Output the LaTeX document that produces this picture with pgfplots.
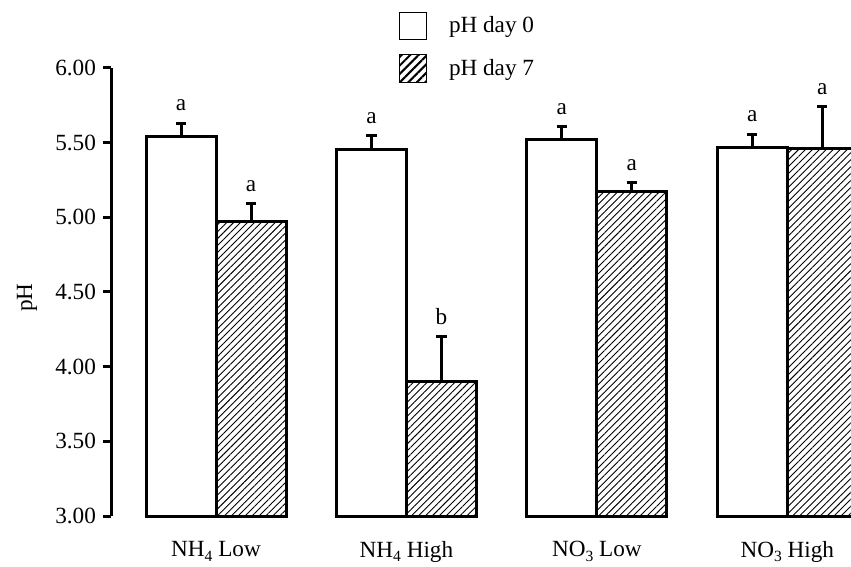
\documentclass[border=0pt]{standalone}
\usepackage{fontspec}
\setmainfont{Liberation Serif}
\usepackage{pgfplots}
\usepackage{pgfplotstable}
\pgfplotsset{compat=1.18}
\usetikzlibrary{patterns.meta}

% pH means, upward standard errors and significance letters
\pgfplotstableread{
x y err lab
0 5.54 0.09 a
1 5.455 0.09 a
2 5.52 0.085 a
3 5.465 0.09 a
}\dayzero
\pgfplotstableread{
x y err lab
0 4.97 0.12 a
1 3.90 0.30 b
2 5.17 0.06 a
3 5.46 0.28 a
}\dayseven

\newcommand{\sub}[1]{\raisebox{-0.45ex}{\fontsize{7.8}{8}\selectfont #1}}
\tikzset{hatch/.style={pattern={Lines[angle=45, distance=2.45pt, line width=0.45pt]}}}

\begin{document}
\begin{tikzpicture}[font=\fontsize{11.6}{13.9}\selectfont]
\begin{axis}[
  at={(55.5pt,25.5pt)}, anchor=south west,
  scale only axis, width=390.5pt, height=224pt,
  xmin=-0.5515, xmax=3.55, ymin=3, ymax=6,
  clip=false,
  axis x line*=bottom, axis y line*=left,
  x axis line style={draw=none},
  y axis line style={line width=1.5pt},
  ybar=0pt, bar width=0.3676,
  xtick={0,1,2,3},
  xticklabels={NH\sub{4} Low, NH\sub{4} High, NO\sub{3} Low, NO\sub{3} High},
  xtick style={draw=none},
  xticklabel style={yshift=-5pt},
  ytick={3,3.5,4,4.5,5,5.5,6},
  yticklabel={\pgfmathprintnumber[fixed,fixed zerofill,precision=2,assume math mode=true]{\tick}},
  tick align=outside, major tick length=4pt,
  ytick style={line width=1.5pt, black},
  every axis y label/.style={at={(axis description cs:-0.1076,0.487)}, rotate=90, anchor=center},
  ylabel={pH},
  legend style={at={(axis description cs:0.3675,1.125)}, anchor=north west,
    draw=none, fill=none, inner sep=0pt, outer sep=0pt,
    row sep=7pt, column sep=11pt, nodes={inner sep=0pt},
    legend cell align=left},
  error bars/y dir=plus, error bars/y explicit,
  error bars/error mark options={rotate=90, line width=1.5pt, mark size=2.6pt},
  error bars/error bar style={line width=1.5pt},
  nodes near coords, point meta=explicit symbolic,
  visualization depends on={\thisrow{err} \as \myerr},
  every node near coord/.append style={anchor=south, inner sep=0pt,
    yshift={\myerr*74.667pt+5.5pt}},
]
\addlegendimage{legend image code/.code={\draw[line width=0.5pt, fill=white] (0pt,-6.75pt) rectangle (13.5pt,6.75pt);}}
\addlegendentry{pH day 0}
\addlegendimage{legend image code/.code={\draw[line width=0.5pt, pattern={Lines[angle=45, distance=3pt, line width=1pt]}] (0pt,-6.75pt) rectangle (13.5pt,6.75pt);}}
\addlegendentry{pH day 7}

\addplot[forget plot, bar shift=-0.1838, draw=black, line width=1.5pt, fill=white]
  table[x=x, y=y, y error=err, meta=lab] {\dayzero};
\addplot[forget plot, bar shift=0.1838, draw=black, line width=1.5pt, hatch]
  table[x=x, y=y, y error=err, meta=lab] {\dayseven};
\end{axis}
\pgfresetboundingbox
\useasboundingbox (0,0) rectangle (425.5pt,283.5pt);
\end{tikzpicture}
\end{document}
